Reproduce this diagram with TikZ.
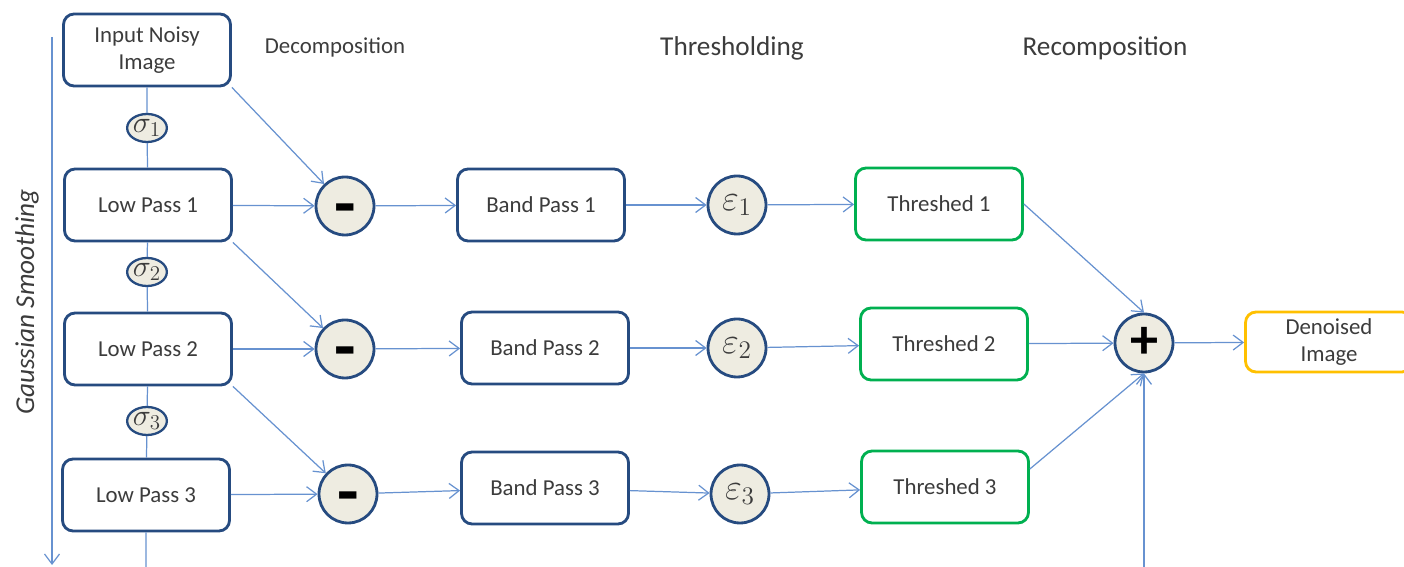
\documentclass[tikz,border=0pt]{standalone}
\usepackage{amsmath}
\usepackage{fontspec}
\setmainfont{Carlito}
\usepackage{tikz}
\usetikzlibrary{arrows.meta, positioning, shapes.geometric}
\definecolor{cNavy}{RGB}{38,75,128}
\definecolor{cLine}{RGB}{103,146,208}
\definecolor{cGreen}{RGB}{0,176,80}
\definecolor{cOrange}{RGB}{255,192,0}
\definecolor{cFill}{RGB}{238,236,225}
\definecolor{cText}{RGB}{60,60,60}
\tikzset{
	lowbox/.style   ={rectangle, rounded corners=6pt, draw=cNavy, line width=1.6pt, minimum width=3.34cm, minimum height=1.44cm, align=center, fill=white},
	threshbox/.style={lowbox, draw=cGreen},
	outbox/.style   ={lowbox, draw=cOrange, minimum height=1.2cm},
	sigmaj/.style   ={ellipse, draw=cNavy, line width=1.3pt, fill=cFill, minimum width=0.74cm, minimum height=0.56cm, inner sep=0pt, font=\fontsize{17}{17}\selectfont},
	opj/.style      ={circle, draw=cNavy, line width=1.6pt, fill=cFill, minimum size=1.16cm, inner sep=0pt, text=black},
	minj/.style     ={opj, text height=0pt, text depth=0pt, font=\fontsize{40}{40}\selectfont\bfseries},
	epsj/.style     ={opj, text=cText, font=\fontsize{20}{20}\selectfont},
	sig/.style      ={-{Straight Barb[length=2mm, width=3mm]}, draw=cLine, line width=0.7pt},
	link/.style     ={draw=cLine, line width=0.7pt},
	head/.style     ={font=\fontsize{15.5}{18}\selectfont},
}
\newcommand{\opminus}{\raisebox{-0.3em}{-}}
\begin{document}
\begin{tikzpicture}[x=0.02cm, y=0.02cm, font=\fontsize{13}{15.5}\selectfont, text=cText]
	\useasboundingbox (0,0) rectangle (1404,-567);
	% headings
	\node at (335,-47) {Decomposition};
	\node[head] at (732,-48) {Thresholding};
	\node[head] at (1105,-48) {Recomposition};
	\node[head, rotate=90, font=\fontsize{15.5}{18}\selectfont\itshape] at (27,-302) {Gaussian Smoothing};
	\coordinate (gsTop) at (52,-37);
	\coordinate (gsBot) at (52,-565);
	\draw[sig] (gsTop) -- (gsBot);
	% low pass column
	\node[lowbox] (inp) at (147,-50) {Input Noisy\\Image};
	\node[lowbox] (lp1) at (148,-205) {Low Pass 1};
	\node[lowbox] (lp2) at (148,-349) {Low Pass 2};
	\node[lowbox] (lp3) at (146,-495) {Low Pass 3};
	\node[sigmaj] (s1) at (147,-128) {$\sigma_1$};
	\node[sigmaj] (s2) at (147,-272) {$\sigma_2$};
	\node[sigmaj] (s3) at (147,-421) {$\sigma_3$};
	\coordinate (lpEnd) at (146,-580);
	\draw[link] (inp) -- (s1) -- (lp1) -- (s2) -- (lp2) -- (s3) -- (lp3) -- (lpEnd);
	% differences
	\node[minj] (m1) at (345,-206) {\opminus};
	\node[minj] (m2) at (345,-349) {\opminus};
	\node[minj] (m3) at (348,-494) {\opminus};
	\node[lowbox] (bp1) at (541,-205) {Band Pass 1};
	\node[lowbox] (bp2) at (545,-348) {Band Pass 2};
	\node[lowbox] (bp3) at (545,-488) {Band Pass 3};
	% thresholds
	\node[epsj] (e1) at (737,-205) {$\varepsilon_1$};
	\node[epsj] (e2) at (737,-348) {$\varepsilon_2$};
	\node[epsj] (e3) at (740,-494) {$\varepsilon_3$};
	\node[threshbox] (t1) at (939,-204) {Threshed 1};
	\node[threshbox] (t2) at (944,-344) {Threshed 2};
	\node[threshbox] (t3) at (945,-487) {Threshed 3};
	% sum
	\node[opj] (plus) at (1144,-343) {\fontsize{32}{32}\selectfont\bfseries +};
	\node[outbox] (out) at (1329,-342) {Denoised\\Image};
	\coordinate (plEnd) at (1144,-580);
	% arrows
	\draw[sig] (inp.south east) -- (m1);
	\draw[sig] (lp1) -- (m1);
	\draw[sig] (lp1.south east) -- (m2);
	\draw[sig] (lp2) -- (m2);
	\draw[sig] (lp2.south east) -- (m3);
	\draw[sig] (lp3) -- (m3);
	\draw[sig] (m1) -- (bp1);
	\draw[sig] (m2) -- (bp2);
	\draw[sig] (m3) -- (bp3);
	\draw[sig] (bp1) -- (e1);
	\draw[sig] (bp2) -- (e2);
	\draw[sig] (bp3) -- (e3);
	\draw[sig] (e1) -- (t1);
	\draw[sig] (e2) -- (t2);
	\draw[sig] (e3) -- (t3);
	\draw[sig] (t1.east) -- (plus.north);
	\draw[sig] (t2) -- (plus);
	\draw[sig] (t3.12) -- (plus.south);
	\draw[sig] (plEnd) -- (plus.south);
	\draw[sig] (plus) -- (out);
\end{tikzpicture}
\end{document}
